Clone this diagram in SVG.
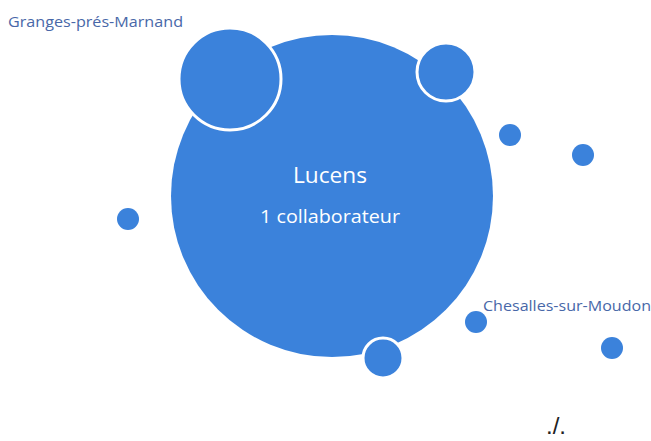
<svg xmlns="http://www.w3.org/2000/svg" width="651" height="441" viewBox="0 0 651 441">
<style>
.b{fill:#3b82db}
.r{fill:#3b82db;stroke:#ffffff;stroke-width:3}
.lbl{font-family:"Open Sans","Liberation Sans",sans-serif;fill:#4867a8}
.in{font-family:"Open Sans","Liberation Sans",sans-serif;fill:#ffffff;text-anchor:middle}
</style>
<rect width="651" height="441" fill="#ffffff"/>
<g id="lucens">
<circle class="b" cx="332" cy="196" r="161"/>
<text class="in" x="330" y="183" font-size="22" textLength="74" lengthAdjust="spacingAndGlyphs">Lucens</text>
<text class="in" x="330" y="223" font-size="19" textLength="140" lengthAdjust="spacingAndGlyphs">1 collaborateur</text>
</g>
<g id="granges">
<circle class="r" cx="230" cy="79" r="51"/>
<text class="lbl" x="8" y="27" font-size="15" textLength="175" lengthAdjust="spacingAndGlyphs">Granges-prés-Marnand</text>
</g>
<g id="n-topright"><circle class="r" cx="446" cy="72" r="29"/></g>
<g id="n-bottom"><circle class="r" cx="383" cy="358" r="20"/></g>
<g id="n1"><circle class="b" cx="510" cy="135" r="11"/></g>
<g id="n2"><circle class="b" cx="583" cy="155" r="11"/></g>
<g id="n3"><circle class="b" cx="128" cy="219" r="11"/></g>
<g id="chesalles">
<circle class="b" cx="476" cy="322" r="11"/>
<text class="lbl" x="483" y="311" font-size="14" textLength="168" lengthAdjust="spacingAndGlyphs">Chesalles-sur-Moudon</text>
</g>
<g id="n4"><circle class="b" cx="612" cy="348" r="11"/></g>
<g id="connectors"></g>
<text x="556" y="434" font-family="Liberation Sans,sans-serif" font-size="24" fill="#222" text-anchor="middle">./.</text>
</svg>
